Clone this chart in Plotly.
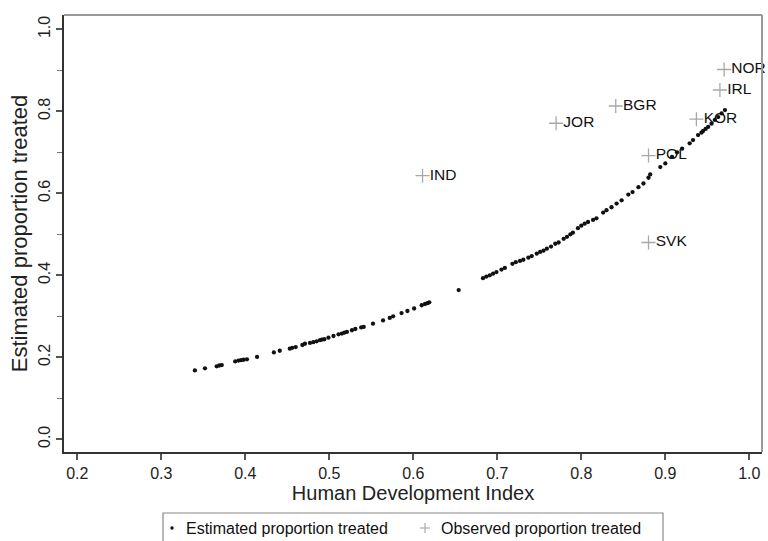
import plotly.graph_objects as go

# Estimated proportion treated (black dots)
est_hdi = [0.340, 0.352, 0.366, 0.369, 0.372, 0.388, 0.392, 0.395, 0.398, 0.402,
           0.414, 0.434, 0.441, 0.453, 0.456, 0.460, 0.468, 0.471, 0.477, 0.481,
           0.485, 0.489, 0.491, 0.494, 0.499, 0.505, 0.511, 0.515, 0.518, 0.521,
           0.527, 0.531, 0.538, 0.541, 0.552, 0.564, 0.572, 0.576, 0.586, 0.593,
           0.601, 0.610, 0.614, 0.617, 0.619, 0.654, 0.683, 0.687, 0.691, 0.695,
           0.699, 0.705, 0.709, 0.718, 0.722, 0.727, 0.731, 0.737, 0.741, 0.747,
           0.751, 0.755, 0.759, 0.764, 0.769, 0.773, 0.779, 0.783, 0.787, 0.790,
           0.796, 0.800, 0.804, 0.808, 0.814, 0.818, 0.826, 0.830, 0.836, 0.842,
           0.848, 0.856, 0.861, 0.868, 0.874, 0.880, 0.882, 0.894, 0.900, 0.908,
           0.914, 0.920, 0.929, 0.933, 0.939, 0.943, 0.945, 0.948, 0.951, 0.955,
           0.959, 0.963, 0.967, 0.971]
est_prop = [0.168, 0.173, 0.178, 0.180, 0.181, 0.190, 0.192, 0.193, 0.194, 0.195,
            0.201, 0.212, 0.216, 0.221, 0.223, 0.225, 0.230, 0.233, 0.235, 0.237,
            0.239, 0.242, 0.243, 0.244, 0.248, 0.252, 0.256, 0.258, 0.260, 0.262,
            0.266, 0.269, 0.273, 0.274, 0.282, 0.290, 0.296, 0.300, 0.308, 0.313,
            0.319, 0.327, 0.330, 0.332, 0.334, 0.364, 0.393, 0.397, 0.400, 0.404,
            0.408, 0.414, 0.418, 0.428, 0.432, 0.435, 0.438, 0.443, 0.447, 0.453,
            0.457, 0.460, 0.465, 0.470, 0.477, 0.480, 0.489, 0.494, 0.500, 0.504,
            0.515, 0.521, 0.526, 0.530, 0.535, 0.539, 0.553, 0.559, 0.566, 0.575,
            0.583, 0.597, 0.603, 0.615, 0.624, 0.638, 0.646, 0.664, 0.673, 0.689,
            0.700, 0.709, 0.722, 0.730, 0.742, 0.748, 0.752, 0.757, 0.762, 0.770,
            0.779, 0.786, 0.795, 0.803]

# Observed proportion treated (grey crosses) with country codes
obs_country = ["IND", "JOR", "BGR", "NOR", "IRL", "KOR", "POL", "SVK"]
obs_hdi = [0.611, 0.770, 0.841, 0.970, 0.965, 0.937, 0.880, 0.880]
obs_prop = [0.643, 0.771, 0.813, 0.902, 0.852, 0.781, 0.692, 0.480]

x_ticks = [0.2, 0.3, 0.4, 0.5, 0.6, 0.7, 0.8, 0.9, 1.0]
y_ticks = [0.0, 0.2, 0.4, 0.6, 0.8, 1.0]

legend_labels = ["Estimated proportion treated", "Observed proportion treated"]

FONT = "Liberation Sans, Arial, sans-serif"
W, H = 768, 541
ML, MR, MT, MB = 64, 6, 15, 89
PW, PH = W - ML - MR, H - MT - MB


def px(xp):
    return (xp - ML) / PW


def py(yp):
    return (H - MB - yp) / PH


fig = go.Figure()
fig.add_trace(go.Scatter(
    x=est_hdi, y=est_prop, mode="markers", name=legend_labels[0],
    marker=dict(symbol="circle", size=4.3, color="#111111"),
))
fig.add_trace(go.Scatter(
    x=obs_hdi, y=obs_prop, mode="markers+text", name=legend_labels[1],
    text=obs_country, textposition="middle right",
    textfont=dict(family=FONT, size=15.5, color="#111111"),
    marker=dict(symbol="cross-thin", size=10, line=dict(width=1.3, color="#a8a8a8")),
    cliponaxis=False,
))

# Legend box drawn manually (open at the bottom as in the reference)
leg_l, leg_r, leg_t, leg_b = 163, 663, 513, 560
leg_y = 528
shapes = [
    dict(type="line", xref="paper", yref="paper", x0=0, x1=1, y0=1, y1=1,
         line=dict(color="#9a9a9a", width=2)),
    dict(type="line", xref="paper", yref="paper", x0=1, x1=1, y0=0, y1=1,
         line=dict(color="#9a9a9a", width=2)),
    dict(type="rect", xref="paper", yref="paper", x0=px(leg_l), x1=px(leg_r),
         y0=py(leg_b), y1=py(leg_t), line=dict(color="#888888", width=1.2),
         fillcolor="white", layer="below"),
    dict(type="circle", xref="paper", yref="paper", x0=px(170.3), x1=px(173.7),
         y0=py(529.7), y1=py(526.3), fillcolor="#111111", line=dict(width=0)),
    dict(type="line", xref="paper", yref="paper", x0=px(420), x1=px(430),
         y0=py(leg_y), y1=py(leg_y), line=dict(color="#b0b0b0", width=1.3)),
    dict(type="line", xref="paper", yref="paper", x0=px(425), x1=px(425),
         y0=py(leg_y - 5), y1=py(leg_y + 5), line=dict(color="#b0b0b0", width=1.3)),
]
annotations = [
    dict(text=legend_labels[0], xref="paper", yref="paper", x=px(184), y=py(leg_y),
         xanchor="left", yanchor="middle", showarrow=False,
         font=dict(family=FONT, size=16, color="#111111")),
    dict(text=legend_labels[1], xref="paper", yref="paper", x=px(439), y=py(leg_y),
         xanchor="left", yanchor="middle", showarrow=False,
         font=dict(family=FONT, size=16, color="#111111")),
]

fig.update_layout(
    width=W, height=H,
    margin=dict(l=ML, r=MR, t=MT, b=MB, autoexpand=False),
    paper_bgcolor="white", plot_bgcolor="white",
    font=dict(family=FONT, size=16, color="#222222"),
    showlegend=False,
    shapes=shapes,
    annotations=annotations,
)
fig.update_xaxes(
    range=[0.1842, 1.0151], tickvals=x_ticks, ticktext=[f"{v:.1f}" for v in x_ticks],
    showgrid=False, zeroline=False, showline=True, linecolor="#333333", linewidth=2,
    ticks="outside", ticklen=6, tickcolor="#555555", tickwidth=1.5,
    tickfont=dict(size=16, color="#222222"), automargin=False,
    title=dict(text="Human Development Index", font=dict(size=20, color="#222222"), standoff=5),
)
fig.update_yaxes(
    range=[-0.031, 1.035], tickvals=y_ticks, ticktext=[f"{v:.1f}" for v in y_ticks],
    showgrid=False, zeroline=False, showline=True, linecolor="#333333", linewidth=2,
    ticks="outside", ticklen=6, tickcolor="#555555", tickwidth=1.5, tickangle=-90,
    tickfont=dict(size=16, color="#222222"), automargin=False,
    minor=dict(dtick=0.1, tick0=0, ticks="outside", ticklen=5, tickcolor="#777777", tickwidth=1),
    title=dict(text="Estimated proportion treated", font=dict(size=22, color="#222222"), standoff=2),
)

fig.write_html(
    "out.html",
    config={"displayModeBar": False},
    post_script="document.body.style.margin='0';document.body.style.overflow='hidden';",
)
